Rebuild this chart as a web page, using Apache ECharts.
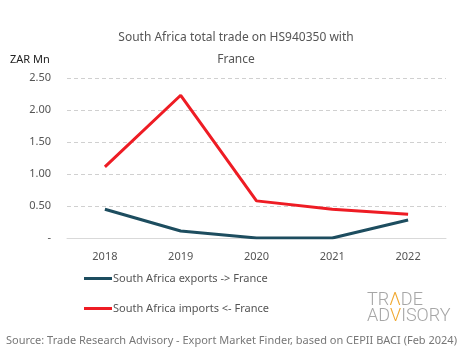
<!DOCTYPE html>
<html><head><meta charset="utf-8">
<script src="https://cdn.jsdelivr.net/npm/echarts@6/dist/echarts.min.js"></script>
<style>html,body{margin:0;padding:0;background:#fff}#c{width:465px;height:359px}</style>
</head><body><div id="c"></div>
<script>
const categories = ['2018', '2019', '2020', '2021', '2022'];
const exportsToFrance = [0.45, 0.11, 0, 0, 0.28];
const importsFromFrance = [1.11, 2.23, 0.58, 0.45, 0.37];
const seriesNames = ['South Africa exports -> France', 'South Africa imports <- France'];
const titleText = 'South Africa total trade on HS940350 with\nFrance';
const unitLabel = 'ZAR Mn';
const sourceText = 'Source: Trade Research Advisory - Export Market Finder, based on CEPII BACI (Feb 2024)';

const FONT = '"Noto Sans", sans-serif';
const LOGO = 'Roboto, sans-serif';
const chart = echarts.init(document.getElementById('c'), null, {renderer: 'canvas'});
chart.setOption({
  animation: false,
  backgroundColor: '#fff',
  title: {
    text: titleText, left: 236, top: 27, textAlign: 'center', padding: 0,
    textStyle: {fontFamily: FONT, fontSize: 12, fontWeight: 'normal', color: '#555', lineHeight: 22}
  },
  grid: {left: 67, right: 19, top: 78, bottom: 121, containLabel: false},
  xAxis: {
    type: 'category', data: categories, boundaryGap: true,
    axisLine: {lineStyle: {color: '#d9d9d9', width: 1}},
    axisTick: {show: false},
    axisLabel: {fontFamily: FONT, fontSize: 11, color: '#555', margin: 13}
  },
  yAxis: {
    type: 'value', min: 0, max: 2.5, interval: 0.5,
    axisLine: {show: false}, axisTick: {show: false},
    splitLine: {lineStyle: {color: '#d0d0d0', type: [4, 3]}},
    axisLabel: {fontFamily: FONT, fontSize: 11, color: '#555', margin: 16,
      formatter: v => v === 0 ? '-' : v.toFixed(2)}
  },
  legend: {
    orient: 'vertical', left: 84, top: 273, itemGap: 19, padding: 0,
    icon: 'rect', itemWidth: 28, itemHeight: 3,
    textStyle: {fontFamily: FONT, fontSize: 11, color: '#555', padding: [0, 0, 0, -4]},
    data: seriesNames
  },
  series: [
    {name: seriesNames[0], type: 'line', data: exportsToFrance, symbol: 'none',
     lineStyle: {color: '#1d4d5f', width: 3}, itemStyle: {color: '#1d4d5f'}},
    {name: seriesNames[1], type: 'line', data: importsFromFrance, symbol: 'none',
     lineStyle: {color: '#ee1c24', width: 3}, itemStyle: {color: '#ee1c24'}}
  ],
  graphic: [
    {type: 'text', left: 10, top: 54, style: {text: unitLabel, font: '11px ' + FONT, fill: '#222'}},
    {type: 'text', left: 6, top: 335, style: {text: sourceText, font: '11px ' + FONT, fill: '#777'}},
    {type: 'text', left: 367, top: 291, style: {
      text: '{g|TR}{o|Λ}{g|DE}', rich: {
        g: {fontFamily: LOGO, fontSize: 18, fill: '#a6a6a6', fontWeight: 300},
        o: {fontFamily: LOGO, fontSize: 18, fill: '#f0a830', fontWeight: 300}
      }}},
    {type: 'text', left: 367, top: 307, style: {
      text: '{g|AD}{o|V}{g|ISORY}', rich: {
        g: {fontFamily: LOGO, fontSize: 18, fill: '#a6a6a6', fontWeight: 300},
        o: {fontFamily: LOGO, fontSize: 18, fill: '#f0a830', fontWeight: 300}
      }}}
  ]
});
</script></body></html>
